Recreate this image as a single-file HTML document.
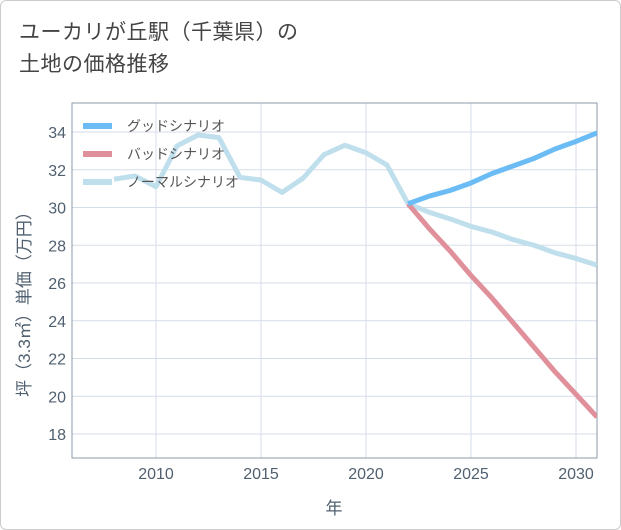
<!DOCTYPE html>
<html><head><meta charset="utf-8"><style>
body{margin:0;background:#fff;font-family:"Liberation Sans","Noto Sans CJK JP",sans-serif;}
#wrap{position:relative;width:619px;height:528px;border:1px solid #ccc;border-radius:6px;background:#fff;overflow:hidden}
#title{position:absolute;left:18px;top:16px;font-size:21px;line-height:32px;color:#444;letter-spacing:0.5px}
</style></head><body>
<div id="wrap">
<div id="title">ユーカリが丘駅（千葉県）の<br>土地の価格推移</div>
<svg id="chart" width="621" height="530" style="position:absolute;left:-1px;top:-1px"></svg>
</div>
<script>
const years=[2008,2009,2010,2011,2012,2013,2014,2015,2016,2017,2018,2019,2020,2021,2022];
const normalHist=[31.5,31.67,31.1,33.26,33.84,33.7,31.6,31.45,30.8,31.55,32.8,33.3,32.9,32.25,30.2];
const futYears=[2022,2023,2024,2025,2026,2027,2028,2029,2030,2031];
const good=[30.2,30.6,30.9,31.3,31.8,32.2,32.6,33.1,33.5,33.95];
const bad=[30.2,28.9,27.7,26.4,25.2,23.9,22.6,21.3,20.1,18.9];
const normalFut=[30.2,29.75,29.4,29.0,28.7,28.3,28.0,27.6,27.3,26.95];
const xTicks=[2010,2015,2020,2025,2030];
const yTicks=[18,20,22,24,26,28,30,32,34];
const legendLabels=["グッドシナリオ","バッドシナリオ","ノーマルシナリオ"];
const L=72,R=597,T=103,B=458;
const X=v=>156+(v-2010)*21;
const Y=v=>132+(34-v)*18.875;
const svg=document.getElementById('chart');
const NS='http://www.w3.org/2000/svg';
function mk(t,a){const e=document.createElementNS(NS,t);for(const k in a)e.setAttribute(k,a[k]);svg.appendChild(e);return e;}
yTicks.forEach(v=>{
 const g=mk('line',{x1:L,x2:R,y1:Y(v),y2:Y(v),stroke:'#d5dde8','stroke-width':1});
 
 
 const t=mk('text',{x:L-6,y:Y(v)+6,'text-anchor':'end','font-size':16,fill:'#506070'});
 t.textContent=v;
 
 
});
xTicks.forEach(v=>{
 const g=mk('line',{x1:X(v),x2:X(v),y1:T,y2:B,stroke:'#d5dde8','stroke-width':1});
 
 
 const t=mk('text',{x:X(v),y:B+21,'text-anchor':'middle','font-size':16,fill:'#506070'});
 t.textContent=v;
 
 
});
const fr=mk('rect',{x:L,y:T,width:R-L,height:B-T,fill:'none',stroke:'#8c99a8','stroke-width':1});


const clip=mk('clipPath',{id:'c'});
const cr=document.createElementNS(NS,'rect');cr.setAttribute('x',L);cr.setAttribute('y',T);cr.setAttribute('width',R-L);cr.setAttribute('height',B-T);clip.appendChild(cr);
function line(xs,ys,color,name){
 const p=mk('polyline',{points:xs.map((x,i)=>X(x)+','+Y(ys[i])).join(' '),fill:'none',stroke:color,'stroke-width':5,'stroke-linejoin':'round','clip-path':'url(#c)'});
 
 
}
line(years,normalHist,'#c0dfed','normal-history-line');
line(futYears,normalFut,'#c0dfed','normal-scenario-line');
line(futYears,bad,'#e0909a','bad-scenario-line');
line(futYears,good,'#6bbcf5','good-scenario-line');
const lc=['#6bbcf5','#e0909a','#c0dfed'];
legendLabels.forEach((s,i)=>{
 const y=126+i*28;
 const l=mk('line',{x1:83,x2:112,y1:y,y2:y,stroke:lc[i],'stroke-width':6});
 
 
 const t=mk('text',{x:127,y:y+5,'font-size':14,fill:'#555'});
 t.textContent=s;
 
 
});
const xt=mk('text',{x:334,y:514,'text-anchor':'middle','font-size':17,fill:'#506070'});
xt.textContent='年';


const yt=mk('text',{x:0,y:0,'text-anchor':'middle','font-size':17,fill:'#506070',transform:'translate(30,300) rotate(-90)'});
yt.textContent='坪（3.3㎡）単価（万円）';


</script>
</body></html>
